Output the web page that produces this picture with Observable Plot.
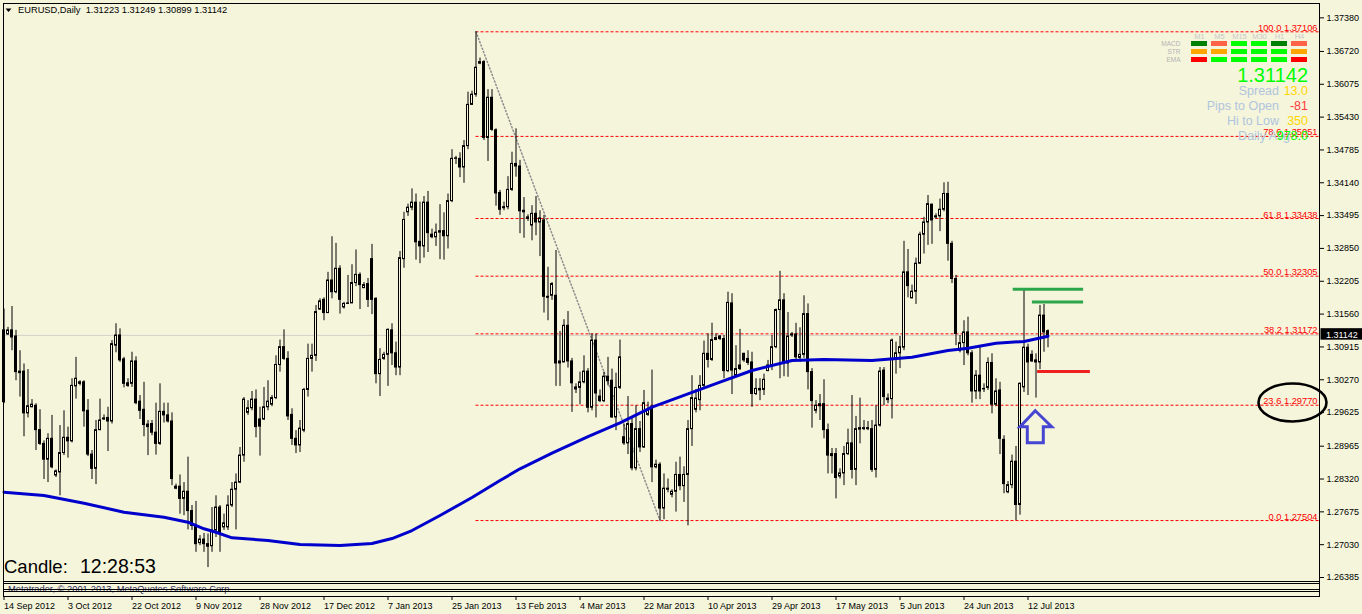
<!DOCTYPE html>
<html><head><meta charset="utf-8">
<script src="https://cdn.jsdelivr.net/npm/d3@7"></script>
<script src="https://cdn.jsdelivr.net/npm/@observablehq/plot@0.6"></script>
<style>
html,body{margin:0;padding:0;background:#f5f5dc;overflow:hidden}
#wrap{position:relative;width:1362px;height:614px;font-family:"Liberation Sans",Arial,sans-serif}
#wrap > svg{position:absolute;left:0;top:0}
#panel{position:absolute;left:1167px;top:28px}
</style></head><body><div id="wrap"><div id="panel"></div></div>
<script>
// ---------------- DATA ----------------
const symbol = "EURUSD", period = "Daily";
const open = [1.2983,1.3116,1.3124,1.3112,1.3043,1.3043,1.2961,1.2973,1.2976,1.2928,
1.2901,1.2870,1.2911,1.2839,1.2845,1.2883,1.2913,1.2906,1.3014,1.3022,
1.3022,1.2966,1.2880,1.2852,1.2928,1.2951,1.2952,1.2945,1.3094,1.3114,
1.3067,1.3020,1.3019,1.3063,1.2984,1.2968,1.2939,1.2940,1.2923,1.2901,
1.2964,1.2957,1.2945,1.2813,1.2817,1.2793,1.2807,1.2769,1.2740,1.2706,
1.2713,1.2704,1.2700,1.2731,1.2776,1.2737,1.2737,1.2780,1.2811,1.2825,
1.2878,1.2962,1.2971,1.2988,1.2949,1.2949,1.2973,1.2978,1.2991,1.3056,
1.3091,1.3068,1.2958,1.2911,1.2898,1.2927,1.3007,1.3068,1.3074,1.3165,
1.3184,1.3158,1.3222,1.3199,1.3245,1.3169,1.3176,1.3177,1.3217,1.3233,
1.3207,1.3215,1.3264,1.3186,1.3038,1.3068,1.3076,1.3124,1.3079,1.3051,
1.3264,1.3356,1.3365,1.3375,1.3298,1.3289,1.3375,1.3312,1.3307,1.3316,
1.3319,1.3309,1.3378,1.3461,1.3461,1.3444,1.3486,1.3567,1.3587,1.3648,
1.3651,1.3502,1.3581,1.3517,1.3394,1.3366,1.3366,1.3400,1.3451,1.3446,
1.3359,1.3346,1.3330,1.3353,1.3336,1.3340,1.3190,1.3192,1.3192,1.3059,
1.3061,1.3133,1.3063,1.3008,1.3011,1.3022,1.3043,1.2972,1.3104,1.2994,
1.2985,1.3033,1.3025,1.2953,1.3011,1.2914,1.2902,1.2940,1.2853,1.2930,
1.2894,1.2958,1.2974,1.2855,1.2860,1.2774,1.2811,1.2801,1.2807,1.2840,
1.2818,1.2840,1.2930,1.2968,1.2987,1.3015,1.3078,1.3066,1.3105,1.3112,
1.3107,1.3044,1.3177,1.3035,1.3055,1.3078,1.3068,1.3061,1.2999,1.3006,
1.3007,1.3044,1.3055,1.3091,1.3164,1.3183,1.3059,1.3116,1.3116,1.3070,
1.3076,1.3156,1.3042,1.2966,1.2975,1.2979,1.2928,1.2877,1.2881,1.2837,
1.2843,1.2881,1.2902,1.2850,1.2929,1.2930,1.2930,1.2930,1.2850,1.2937,
1.3045,1.2990,1.2989,1.3068,1.3079,1.3090,1.3238,1.3187,1.3200,1.3255,
1.3312,1.3336,1.3371,1.3348,1.3348,1.3361,1.3392,1.3294,1.3225,1.3084,
1.3099,1.3120,1.3079,1.3004,1.3035,1.3009,1.3011,1.3060,1.2978,1.3006,
1.2909,1.2806,1.2820,1.2866,1.2781,1.3012,1.3090,1.3076,1.3065,1.3061,
1.3153,1.31223];
const high = [1.3166,1.3130,1.3171,1.3124,1.3084,1.3058,1.3047,1.2988,1.2980,1.2968,
1.2907,1.2921,1.2957,1.2850,1.2937,1.2966,1.2934,1.3029,1.3071,1.3025,
1.3025,1.2988,1.2888,1.2947,1.2989,1.2958,1.2973,1.3104,1.3137,1.3127,
1.3071,1.3029,1.3081,1.3072,1.2996,1.3022,1.2947,1.2947,1.2981,1.3019,
1.2981,1.2981,1.2962,1.2822,1.2840,1.2825,1.2875,1.2780,1.2788,1.2721,
1.2725,1.2724,1.2776,1.2799,1.2780,1.2763,1.2799,1.2825,1.2842,1.2894,
1.2992,1.2986,1.3004,1.3007,1.2973,1.3012,1.3025,1.2996,1.3074,1.3105,
1.3125,1.3082,1.2970,1.2927,1.2947,1.3010,1.3097,1.3097,1.3173,1.3186,
1.3188,1.3238,1.3308,1.3295,1.3251,1.3179,1.3232,1.3253,1.3282,1.3237,
1.3218,1.3226,1.3293,1.3188,1.3088,1.3081,1.3127,1.3137,1.3101,1.3279,
1.3356,1.3372,1.3402,1.3392,1.3376,1.3387,1.3397,1.3323,1.3333,1.3371,
1.3355,1.3392,1.3479,1.3466,1.3473,1.3497,1.3592,1.3594,1.37106,1.3659,
1.3654,1.3597,1.3597,1.3520,1.3399,1.3376,1.3426,1.3474,1.3520,1.3458,
1.3385,1.3351,1.3369,1.3387,1.3359,1.3350,1.3248,1.3218,1.3281,1.3122,
1.3145,1.3161,1.3069,1.3019,1.3042,1.3074,1.3049,1.3117,1.3117,1.3007,
1.3042,1.3071,1.3048,1.3040,1.3105,1.2940,1.2994,1.2953,1.2976,1.2945,
1.3006,1.2983,1.3046,1.2869,1.2864,1.2842,1.2832,1.2811,1.2865,1.2875,
1.2856,1.2947,1.3035,1.3008,1.3035,1.3103,1.3117,1.3138,1.3117,1.3114,
1.3114,1.3199,1.3196,1.3094,1.3126,1.3079,1.3084,1.3081,1.3029,1.3029,
1.3038,1.3065,1.3114,1.3166,1.3240,1.3196,1.3159,1.3120,1.3138,1.3129,
1.3192,1.3176,1.3049,1.2986,1.2998,1.3027,1.2940,1.2892,1.2892,1.2852,
1.2896,1.2930,1.2996,1.2955,1.2991,1.2947,1.2945,1.2947,1.2976,1.3051,
1.3051,1.2999,1.3107,1.3101,1.3112,1.3299,1.3283,1.3213,1.3266,1.3317,
1.3346,1.3389,1.3372,1.3353,1.3382,1.3414,1.3415,1.3299,1.3232,1.3114,
1.3143,1.3150,1.3084,1.3045,1.3093,1.3019,1.3070,1.3078,1.3029,1.3022,
1.2917,1.2827,1.2879,1.2896,1.3021,1.3204,1.3097,1.3084,1.3078,1.3173,
1.3175,1.31249];
const low = [1.2980,1.3114,1.3084,1.3025,1.2993,1.2915,1.2952,1.2972,1.2888,1.2898,
1.2831,1.2825,1.2852,1.2835,1.2799,1.2878,1.2873,1.2903,1.2989,1.3015,
1.2934,1.2876,1.2831,1.2821,1.2927,1.2947,1.2886,1.2940,1.3080,1.3061,
1.3011,1.3012,1.3012,1.2978,1.2949,1.2915,1.2878,1.2917,1.2879,1.2898,
1.2942,1.2942,1.2819,1.2811,1.2763,1.2760,1.2732,1.2731,1.2688,1.2701,
1.2688,1.2658,1.2688,1.2717,1.2688,1.2731,1.2731,1.2776,1.2732,1.2823,
1.2865,1.2957,1.2966,1.2913,1.2877,1.2947,1.2966,1.2974,1.2988,1.3042,
1.3065,1.2947,1.2898,1.2882,1.2884,1.2923,1.2993,1.3042,1.3063,1.3163,
1.3143,1.3157,1.3186,1.3196,1.3156,1.3166,1.3175,1.3177,1.3210,1.3165,
1.3206,1.3169,1.3155,1.3019,1.2994,1.3065,1.3014,1.3055,1.3035,1.3035,
1.3246,1.3348,1.3359,1.3262,1.3255,1.3266,1.3277,1.3304,1.3289,1.3263,
1.3262,1.3284,1.3375,1.3450,1.3424,1.3413,1.3479,1.3566,1.3582,1.3646,
1.3497,1.3456,1.3515,1.3368,1.3350,1.3359,1.3361,1.3397,1.3425,1.3314,
1.3305,1.3338,1.3300,1.3310,1.3269,1.3158,1.3143,1.3183,1.3014,1.3014,
1.3061,1.3050,1.2963,1.3000,1.2978,1.3019,1.2962,1.2966,1.2952,1.2982,
1.2982,1.3015,1.2951,1.2927,1.3008,1.2898,1.2880,1.2848,1.2848,1.2884,
1.2892,1.2955,1.2825,1.2852,1.27504,1.2752,1.2805,1.2795,1.2767,1.2809,
1.2786,1.2740,1.2896,1.2962,1.2966,1.3012,1.3050,1.3063,1.3104,1.3104,
1.3029,1.3041,1.2998,1.3031,1.3045,1.3061,1.3055,1.2973,1.2996,1.2986,
1.2996,1.3043,1.3045,1.3088,1.3029,1.3033,1.3032,1.3110,1.3065,1.3061,
1.3069,1.3007,1.2932,1.2960,1.2947,1.2911,1.2842,1.2842,1.2793,1.2832,
1.2819,1.2878,1.2832,1.2819,1.2901,1.2927,1.2927,1.2845,1.2834,1.2934,
1.2976,1.2980,1.2950,1.3038,1.3049,1.3084,1.3188,1.3186,1.3175,1.3255,
1.3274,1.3291,1.3293,1.3342,1.3318,1.3357,1.3260,1.3216,1.3094,1.3080,
1.3055,1.3074,1.2981,1.2988,1.2988,1.3002,1.3006,1.2960,1.2974,1.2880,
1.2803,1.2803,1.2813,1.2750,1.2761,1.3002,1.2996,1.3061,1.2991,1.3047,
1.3081,1.30899];
const close = [1.3124,1.3124,1.3110,1.3042,1.3040,1.2961,1.2975,1.2978,1.2928,1.2901,
1.2870,1.2911,1.2855,1.2847,1.2883,1.2913,1.2906,1.3015,1.3029,1.3019,
1.2965,1.2880,1.2852,1.2928,1.2947,1.2949,1.2945,1.3097,1.3114,1.3065,
1.3019,1.3015,1.3063,1.2981,1.2966,1.2938,1.2934,1.2923,1.2901,1.2964,
1.2957,1.2945,1.2832,1.2817,1.2793,1.2807,1.2769,1.2740,1.2704,1.2713,
1.2704,1.2699,1.2731,1.2776,1.2724,1.2745,1.2780,1.2811,1.2825,1.2878,
1.2988,1.2971,1.2988,1.2934,1.2935,1.2973,1.2984,1.2991,1.3056,1.3091,
1.3068,1.2955,1.2911,1.2898,1.2931,1.3007,1.3068,1.3074,1.3160,1.3181,
1.3158,1.3222,1.3199,1.3245,1.3184,1.3176,1.3177,1.3217,1.3233,1.3213,
1.3213,1.3184,1.3184,1.3038,1.3066,1.3076,1.3125,1.3079,1.3051,1.3266,
1.3341,1.3365,1.3375,1.3297,1.3289,1.3375,1.3315,1.3307,1.3316,1.3319,
1.3309,1.3378,1.3461,1.3462,1.3444,1.3486,1.3567,1.3587,1.3640,1.3651,
1.3502,1.3581,1.3518,1.3393,1.3361,1.3364,1.3400,1.3451,1.3446,1.3358,
1.3356,1.3343,1.3353,1.3336,1.3344,1.3190,1.3188,1.3215,1.3059,1.3063,
1.3133,1.3063,1.3020,1.3012,1.3022,1.3043,1.2972,1.3104,1.3000,1.2985,
1.3033,1.3024,1.2953,1.3011,1.3071,1.2902,1.2940,1.2853,1.2930,1.2894,
1.2981,1.2966,1.2855,1.2860,1.2774,1.2813,1.2813,1.2807,1.2840,1.2818,
1.2840,1.2930,1.2991,1.2990,1.3015,1.3078,1.3066,1.3105,1.3109,1.3107,
1.3044,1.3178,1.3045,1.3048,1.3048,1.3065,1.3060,1.2999,1.3009,1.3009,
1.3027,1.3055,1.3091,1.3164,1.3183,1.3059,1.3112,1.3114,1.3071,1.3076,
1.3156,1.3042,1.2985,1.2976,1.2979,1.2928,1.2878,1.2881,1.2834,1.2843,
1.2881,1.2902,1.2850,1.2930,1.2932,1.2932,1.2932,1.2850,1.2937,1.3043,
1.2993,1.2987,1.3104,1.3079,1.3091,1.3238,1.3211,1.3200,1.3255,1.3312,
1.3336,1.3372,1.3340,1.3346,1.3361,1.3392,1.3294,1.3225,1.3117,1.3099,
1.3120,1.3079,1.3004,1.3035,1.3004,1.3008,1.3060,1.2978,1.3004,1.2911,
1.2822,1.2820,1.2866,1.2781,1.3019,1.3090,1.3061,1.3063,1.3061,1.3153,
1.3120,1.31142];
// moving average (blue), read at sampled bars
const maIndex = [0,10,20,30,40,46,50,53,57,66,74,84,92,97,102,109,117,124,129,137,146,154,162,171,179,187,197,205,217,227,236,241,248,255,261];
const maValue = [1.28061,1.27996,1.27845,1.27668,1.27570,1.27472,1.27342,1.27275,1.27165,1.27112,1.27033,1.27014,1.27053,1.27151,1.27308,1.27603,1.27957,1.28291,1.28521,1.28827,1.29155,1.29424,1.29731,1.29994,1.30222,1.30452,1.30648,1.30668,1.30648,1.30713,1.30845,1.30890,1.30988,1.31022,1.31126];
// Fibonacci retracement
const fibLevel = [0.0, 23.6, 38.2, 50.0, 61.8, 78.6, 100.0];
const fibPrice = [1.27504, 1.29770, 1.31172, 1.32305, 1.33438, 1.35051, 1.37106];
const fibAnchorIndex = [118, 164];
const fibAnchorPrice = [1.37106, 1.27504];
// horizontal trend lines
const lineName = ["green1", "green2", "red"];
const linePrice = [1.3205, 1.3180, 1.3043];
const lineFrom = [252.3, 257.1, 258.4];
const lineTo = [269.9, 269.9, 271.6];
const lineColor = ["#2ba64a", "#2ba64a", "#ee2020"];
// axes
const dateTickIndex = [0,16,32,48,64,80,96,112,128,144,160,176,192,208,224,240,256];
const dateTickLabel = ["14 Sep 2012","3 Oct 2012","22 Oct 2012","9 Nov 2012","28 Nov 2012","17 Dec 2012","7 Jan 2013","25 Jan 2013","13 Feb 2013","4 Mar 2013","22 Mar 2013","10 Apr 2013","29 Apr 2013","17 May 2013","5 Jun 2013","24 Jun 2013","12 Jul 2013"];
const priceTicks = [1.37380,1.36720,1.36075,1.35430,1.34785,1.34140,1.33495,1.32850,1.32205,1.31560,1.30915,1.30270,1.29625,1.28965,1.28320,1.27675,1.27030,1.26385];
// indicator panel
const timeframes = ["M1","M5","M15","M30","H1","H4"];
const signalRows = ["MACD","STR","EMA"];
const macdColors = ["#008000","#ff6347","#00ff00","#00ff00","#008000","#ff6347"];
const strColors  = ["#ffa500","#ffa500","#00ff00","#00ff00","#00ff00","#ffa500"];
const emaColors  = ["#ff0000","#00ff00","#00ff00","#00ff00","#00ff00","#ff0000"];
const infoLabels = ["Spread","Pips to Open","Hi to Low","Daily Avg"];
const infoValues = ["13.0","-81","350","978.0"];
const infoColors = ["#ffd700","#ff3a3a","#ffd700","#00ff00"];
const candleTimer = "12:28:53";
const copyright = "Metatrader, \u00a9 2001-2013, MetaQuotes Software Corp.";
// annotations (anchored in data units)
const ellipseAnchor = {i: 322.25, price: 1.29813};
const arrowAnchor = {i: 257.95, price: 1.29652};

// ---------------- BUILD ----------------
const BG = "#f5f5dc";
const FONT = "Liberation Sans, Arial, sans-serif";
const xMin = -0.125, xMax = 328.875;
const yMin = 1.26012, yMax = 1.37662;
const last = close.length - 1;
const lastPrice = close[last];

const bars = open.map((o, i) => ({i, open: o, high: high[i], low: low[i], close: close[i]}));
const upBars = bars.filter(d => d.close >= d.open);
const downBars = bars.filter(d => d.close < d.open);
const ma = maIndex.map((i, k) => ({i, v: maValue[k]}));
const fib = fibLevel.map((l, k) => ({level: l, price: fibPrice[k]}));
const fibDiag = fibAnchorIndex.map((i, k) => ({i, price: fibAnchorPrice[k]}));
const levels = lineName.map((n, k) => ({name: n, price: linePrice[k], from: lineFrom[k], to: lineTo[k], color: lineColor[k]}));
const dateMap = new Map(dateTickIndex.map((d, k) => [d, dateTickLabel[k]]));

const chart = Plot.plot({
  width: 1362, height: 614,
  marginLeft: 3, marginRight: 43, marginTop: 3, marginBottom: 18,
  style: {background: "transparent", fontFamily: FONT, fontSize: "9px", color: "black", overflow: "visible"},
  x: {domain: [xMin, xMax]},
  y: {domain: [yMin, yMax]},
  marks: [
    Plot.ruleY([lastPrice], {stroke: "#d2d2c8"}),
    Plot.ruleY(fib, {y: "price", x1: fibAnchorIndex[0], x2: xMax, stroke: "#ff0000", strokeDasharray: "3,2"}),
    Plot.line(fibDiag, {x: "i", y: "price", stroke: "#8c8c8c", strokeDasharray: "1.2,2.3"}),
    Plot.text(fib, {x: xMax, y: "price", text: d => `${d.level.toFixed(1)} ${d.price.toFixed(5)}`,
      textAnchor: "end", lineAnchor: "bottom", dx: -2, dy: -1, fill: "#ff0000", fontSize: 9.3}),
    Plot.ruleX(bars, {x: "i", y1: "low", y2: "high", stroke: "black"}),
    Plot.rect(upBars, {x1: d => d.i - 0.25, x2: d => d.i + 0.25, y1: "open", y2: "close", fill: BG, stroke: "black"}),
    Plot.rect(downBars, {x1: d => d.i - 0.25, x2: d => d.i + 0.25, y1: "open", y2: "close", fill: "black", stroke: "black"}),
    Plot.line(ma, {x: "i", y: "v", stroke: "#0000cd", strokeWidth: 3}),
    ...levels.map(l => Plot.ruleY([l], {y: "price", x1: "from", x2: "to", stroke: l.color, strokeWidth: 3})),
    Plot.axisX({ticks: dateTickIndex, tickFormat: d => dateMap.get(d), tickSize: 4, tickPadding: 2,
      textAnchor: "start", label: null, fontSize: 9}),
    Plot.axisY({anchor: "right", ticks: priceTicks, tickFormat: d => d.toFixed(5), tickSize: 4, tickPadding: 3,
      label: null, fontSize: 9}),
    Plot.frame({stroke: "black", shapeRendering: "crispEdges"})
  ]
});
document.getElementById("wrap").prepend(chart);

const X = chart.scale("x"), Y = chart.scale("y");
const svg = d3.select(chart);
const left = X.apply(xMin), right = X.apply(xMax);

function txt(x, y, s, size, color, anchor = "start") {
  return svg.append("text").attr("x", x).attr("y", y).attr("fill", color)
    .attr("text-anchor", anchor).style("font-family", FONT)
    .style("font-size", size + "px").style("white-space", "pre").text(s);
}

// copyright text in sub-window, then sub-window borders
txt(8, 591.5, copyright, 9.3, "#2e2e5c");
[581.5, 583.5, 589.5, 591.5].forEach(y => {
  svg.append("line").attr("x1", left).attr("x2", right).attr("y1", y).attr("y2", y)
    .attr("stroke", "black").attr("shape-rendering", "crispEdges");
});

// title
svg.append("path").attr("d", "M5.5,8.5 L11.5,8.5 L8.5,12 Z").attr("fill", "black");
txt(18, 13.3, `${symbol},${period}  ${open[last].toFixed(5)} ${high[last].toFixed(5)} ${low[last].toFixed(5)} ${close[last].toFixed(5)}`, 9.3, "black");

// bid price box
const yb = Y.apply(lastPrice);
svg.append("rect").attr("x", right + 1.5).attr("y", yb - 6.7).attr("width", 1362 - right).attr("height", 11.5).attr("fill", "black");
txt(right + 7, yb + 3.2, lastPrice.toFixed(5), 9, "white");

// ellipse annotation
svg.append("ellipse").attr("cx", X.apply(ellipseAnchor.i)).attr("cy", Y.apply(ellipseAnchor.price))
  .attr("rx", 34).attr("ry", 19).attr("fill", "none").attr("stroke", "black").attr("stroke-width", 2.6);

// arrow annotation
const ax = X.apply(arrowAnchor.i), ay = Y.apply(arrowAnchor.price);
const arrowPts = [[0,0],[16.4,16],[8,16],[8,32],[-8,32],[-8,16],[-15.3,16]];
svg.append("path").attr("d", "M" + arrowPts.map(p => (ax + p[0]) + "," + (ay + p[1])).join("L") + "Z")
  .attr("fill", "none").attr("stroke", "#4646d2").attr("stroke-width", 3).attr("stroke-linejoin", "miter");

// info block
txt(1308, 81.7, lastPrice.toFixed(5), 20, "#00ff00", "end");
const baselines = [94.5, 109.5, 124.5, 139.5];
infoLabels.forEach((l, k) => {
  const lx = k === 3 ? 1290 : 1279;
  txt(lx, baselines[k], l, 12.5, "#b0c4de", "end");
  txt(1308, baselines[k], infoValues[k], 12.5, infoColors[k], "end");
});

// candle timer
txt(4, 573.3, "Candle:", 18.5, "black");
txt(80, 573.3, candleTimer, 19.5, "black");

// indicator panel
const rowColors = [macdColors, strColors, emaColors];
const cells = [];
signalRows.forEach((r, ri) => timeframes.forEach((tf, ci) => cells.push({tf, row: r, color: rowColors[ri][ci]})));
const panel = Plot.plot({
  width: 144, height: 38, marginLeft: 20, marginRight: 0, marginTop: 10, marginBottom: 0.7,
  style: {background: "transparent", overflow: "visible", fontFamily: FONT},
  x: {domain: timeframes, padding: 0.2, axis: null},
  y: {domain: signalRows, padding: 0.41, axis: null},
  color: {type: "identity"},
  marks: [
    Plot.cell(cells, {x: "tf", y: "row", fill: "color", inset: 0}),
    Plot.text(signalRows, {y: d => d, frameAnchor: "left", textAnchor: "end", dx: -7, fill: "#b4b4b4", fontSize: 6.5}),
    Plot.text(timeframes, {x: d => d, frameAnchor: "top", dy: -4.4, fill: "#c8c8c8", fontSize: 7.5})
  ]
});
document.getElementById("panel").appendChild(panel);
</script></body></html>
